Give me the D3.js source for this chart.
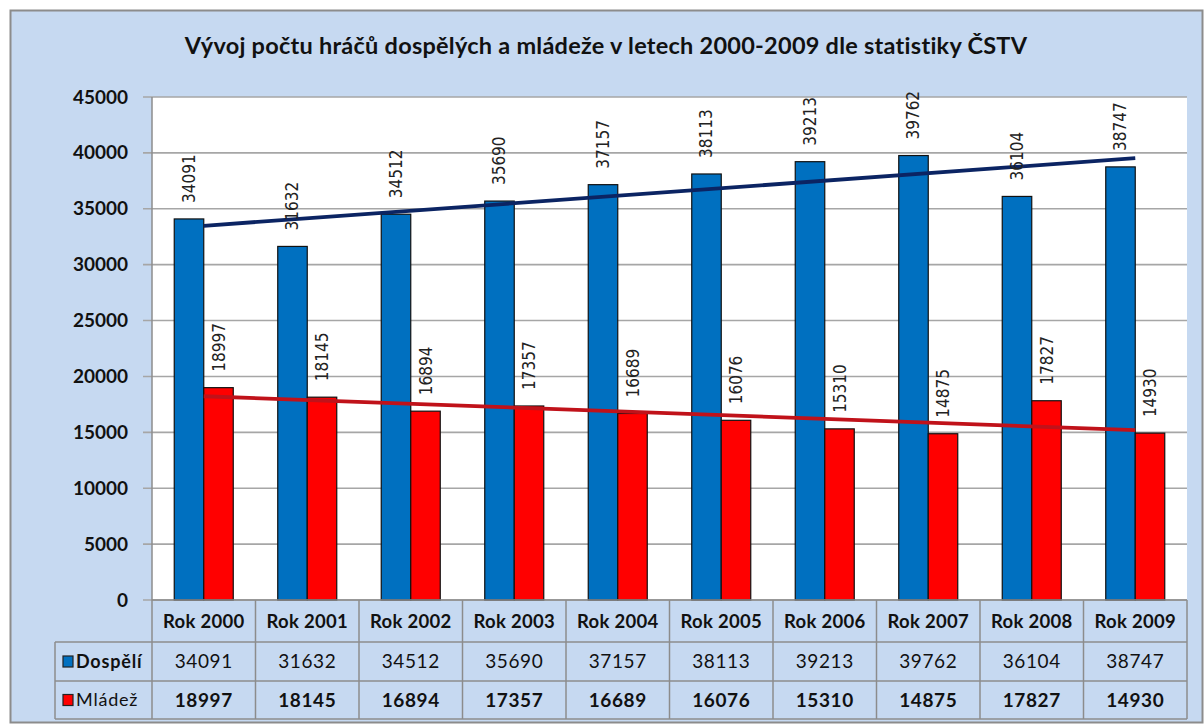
<!DOCTYPE html>
<html>
<head>
<meta charset="utf-8">
<script src="https://cdn.jsdelivr.net/npm/d3@7"></script>
<style>
  html, body { margin: 0; padding: 0; background: #ffffff; }
  svg { display: block; }
</style>
</head>
<body>
<svg id="chart" width="1204" height="725"></svg>
<script>
const titleText = "Vývoj počtu hráčů dospělých a mládeže v letech 2000-2009 dle statistiky ČSTV";
const categories = ["Rok 2000","Rok 2001","Rok 2002","Rok 2003","Rok 2004","Rok 2005","Rok 2006","Rok 2007","Rok 2008","Rok 2009"];
const seriesNames = ["Dospělí","Mládež"];
const dospeli = [34091,31632,34512,35690,37157,38113,39213,39762,36104,38747];
const mladez  = [18997,18145,16894,17357,16689,16076,15310,14875,17827,14930];
const yTicks = [0,5000,10000,15000,20000,25000,30000,35000,40000,45000];

const barColors = ["#0070c0","#ff0000"];
const trendColors = ["#0b2463","#c0121a"];

const svg = d3.select("#chart");
const W = 1204, H = 725;
const plot = {left: 152, right: 1187, top: 97, bottom: 600};
const rows = [600, 642, 681, 719];
const tableLeft = 55;
const uiFont = "Lato, 'Open Sans', sans-serif";

// background
svg.append("rect").attr("x",0).attr("y",0).attr("width",W).attr("height",H).attr("fill","#ffffff");
svg.append("rect").attr("x",10.5).attr("y",10.5).attr("width",1192).attr("height",712)
  .attr("fill","#c6d9f1").attr("stroke","#8c8c8c").attr("stroke-width",2);

// title
svg.append("text").attr("x",606).attr("y",54).attr("text-anchor","middle")
  .attr("font-family",uiFont).attr("font-weight",700)
  .attr("font-size",23.5).attr("letter-spacing",0.25).attr("fill","#111").text(titleText);

// plot background
svg.append("rect").attr("x",plot.left).attr("y",plot.top)
  .attr("width",plot.right-plot.left).attr("height",plot.bottom-plot.top).attr("fill","#ffffff");

const y = d3.scaleLinear().domain([0,45000]).range([plot.bottom, plot.top]);
const x = d3.scaleBand().domain(categories).range([plot.left, plot.right]).padding(0);
const x1 = d3.scaleBand().domain(seriesNames).range([0, x.bandwidth()]).paddingInner(0).paddingOuter(0.754);

// gridlines + ticks
svg.append("g").selectAll("line").data(yTicks).join("line")
  .attr("x1", plot.left-9).attr("x2", plot.right)
  .attr("y1", d=>y(d)).attr("y2", d=>y(d))
  .attr("stroke","#a6a6a6").attr("stroke-width",1.6);

// y labels
const yAxis = d3.axisLeft(y).tickValues(yTicks).tickSize(0).tickPadding(24).tickFormat(d3.format("d"));
const gy = svg.append("g").attr("transform",`translate(${plot.left},0)`).call(yAxis);
gy.select(".domain").remove();
gy.selectAll("text").attr("font-family",uiFont).attr("font-weight",700)
  .attr("font-size",19).attr("fill","#111");

// bars
const data = [dospeli, mladez];
const gBars = svg.append("g");
seriesNames.forEach((s, si) => {
  gBars.append("g").selectAll("rect").data(data[si]).join("rect")
    .attr("x", (d,i)=> x(categories[i]) + x1(s))
    .attr("y", d=>y(d))
    .attr("width", x1.bandwidth())
    .attr("height", d=>plot.bottom - y(d))
    .attr("fill", barColors[si])
    .attr("stroke","#111").attr("stroke-width",1.2);
});

// trend lines (least squares from the data)
function linreg(vals){
  const mx = d3.mean(vals,(d,i)=>i), my = d3.mean(vals);
  let sxy=0, sxx=0;
  vals.forEach((v,i)=>{ sxy += (i-mx)*(v-my); sxx += (i-mx)*(i-mx); });
  const b = sxy/sxx, a = my - b*mx;
  return [a, b];
}
seriesNames.forEach((s, si) => {
  const [a,b] = linreg(data[si]);
  const n = data[si].length;
  const pts = [0, n-1].map(i => [x(categories[i]) + x.bandwidth()/2, y(a + b*i)]);
  svg.append("path").attr("d", d3.line()(pts))
    .attr("stroke", trendColors[si]).attr("stroke-width",3.8).attr("fill","none");
});

// data labels
seriesNames.forEach((s, si) => {
  svg.append("g").selectAll("text").data(data[si]).join("text")
    .attr("transform",(d,i)=>`translate(${x(categories[i]) + x1(s) + x1.bandwidth()/2},${y(d)-16}) rotate(-90)`)
    .attr("text-anchor","start").attr("dominant-baseline","central")
    .attr("font-family","'DejaVu Sans Condensed','DejaVu Sans',sans-serif")
    .attr("font-stretch","condensed")
    .attr("font-size",17).attr("fill","#222").text(d=>d);
});

// y axis line through table
svg.append("line").attr("x1",plot.left).attr("x2",plot.left).attr("y1",plot.top).attr("y2",rows[3])
  .attr("stroke","#8c8c8c").attr("stroke-width",1.5);

// table
const tg = svg.append("g");
const lineColor = "#8c8c8c";
tg.append("line").attr("x1",plot.left).attr("x2",plot.right).attr("y1",rows[0]).attr("y2",rows[0]).attr("stroke",lineColor).attr("stroke-width",1.5);
[rows[1],rows[2],rows[3]].forEach(yy=>{
  tg.append("line").attr("x1",tableLeft).attr("x2",plot.right).attr("y1",yy).attr("y2",yy).attr("stroke",lineColor).attr("stroke-width",1.5);
});
categories.forEach((c,i)=>{
  tg.append("line").attr("x1",x(c)+x.bandwidth()).attr("x2",x(c)+x.bandwidth()).attr("y1",rows[0]).attr("y2",rows[3]).attr("stroke",lineColor).attr("stroke-width",1.5);
});
tg.append("line").attr("x1",tableLeft).attr("x2",tableLeft).attr("y1",rows[1]).attr("y2",rows[3]).attr("stroke",lineColor).attr("stroke-width",1.5);

// header
tg.selectAll("text.hdr").data(categories).join("text").attr("class","hdr")
  .attr("x",d=>x(d)+x.bandwidth()/2).attr("y",(rows[0]+rows[1])/2).attr("dy","0.36em")
  .attr("text-anchor","middle").attr("font-family",uiFont)
  .attr("font-weight",700).attr("font-size",18.5).attr("letter-spacing",0.3).attr("fill","#111").text(d=>d);

// value rows
seriesNames.forEach((s, si) => {
  const cy = (rows[si+1]+rows[si+2])/2;
  tg.append("g").selectAll("text").data(data[si]).join("text")
    .attr("x",(d,i)=>x(categories[i])+x.bandwidth()/2).attr("y",cy).attr("dy","0.36em")
    .attr("text-anchor","middle").attr("font-family",uiFont)
    .attr("font-weight", si===0 ? 400 : 700).attr("font-size",19)
    .attr("letter-spacing", 0.6).attr("fill","#111").text(d=>d);
  tg.append("rect").attr("x",63).attr("y",cy-5.5).attr("width",10).attr("height",11)
    .attr("fill",barColors[si]).attr("stroke","#222").attr("stroke-width",1.2);
  tg.append("text").attr("x",76).attr("y",cy).attr("dy","0.36em")
    .attr("font-family",uiFont).attr("font-weight",si===0?700:400)
    .attr("font-size",18).attr("letter-spacing",0.8).attr("fill","#111").text(s);
});
</script>
</body>
</html>
